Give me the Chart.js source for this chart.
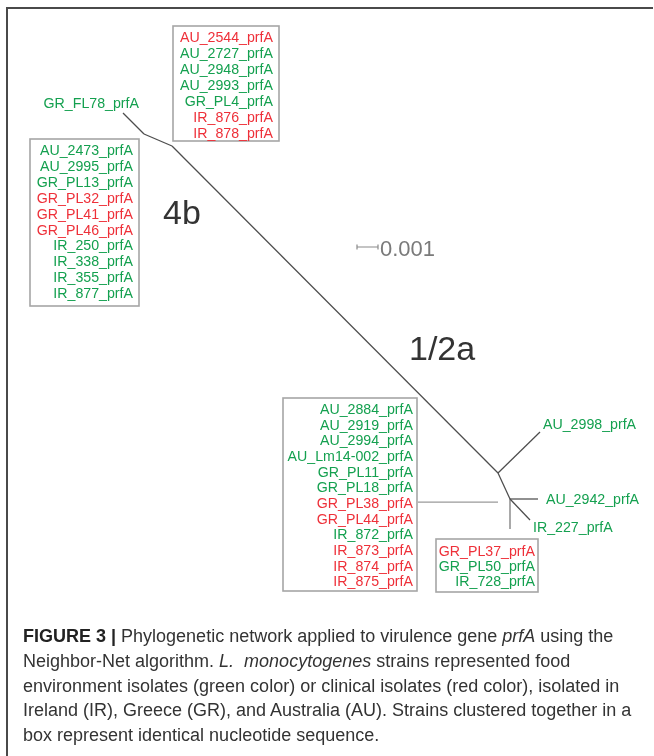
<!DOCTYPE html>
<html>
<head>
<meta charset="utf-8">
<script src="https://cdn.jsdelivr.net/npm/chart.js@4/dist/chart.umd.min.js"></script>
<style>
  html, body { margin: 0; padding: 0; background: #fff; }
  #wrap { position: relative; width: 654px; height: 756px; overflow: hidden; background: #fff; }
  #frame { position: absolute; left: 6px; top: 7px; right: 1px; bottom: -4px;
           border-left: 2px solid #4a4a4a; border-top: 2px solid #4a4a4a; }
  #plot { position: absolute; left: 0; top: 0; width: 654px; height: 756px; }
  #caption { position: absolute; left: 23px; top: 624px; white-space: nowrap;
             font-family: "Liberation Sans", Arial, sans-serif; font-size: 18px;
             line-height: 24.75px; color: #333333; }
  #caption b { color: #222; }
</style>
</head>
<body>
<div id="wrap">
  <div id="frame"></div>
  <div id="plot"><canvas id="net"></canvas></div>
  <div id="caption"><b>FIGURE 3 |</b> Phylogenetic network applied to virulence gene <i>prfA</i> using the<br>Neighbor-Net algorithm. <i>L.&nbsp; monocytogenes</i> strains represented food<br>environment isolates (green color) or clinical isolates (red color), isolated in<br>Ireland (IR), Greece (GR), and Australia (AU). Strains clustered together in a<br>box represent identical nucleotide sequence.</div>
</div>

<script>
// ---- network nodes (planar layout coordinates of the split network) ----
const nodeIds = ['FL78', 'n1', 'n2', 'n3', 'AU2998', 'n4', 'AU2942', 'IR227', 'PL37', 'PL38a', 'PL38b'];
const nodeX   = [123, 144, 172, 498, 540, 510, 538, 530, 510, 418, 498];
const nodeY   = [113, 134, 146, 473, 432, 499, 499, 520, 529, 502, 502];

// ---- edges (pairs of node ids) ----
const edgeFrom = ['FL78', 'n1', 'n2', 'n3',     'n3', 'n4',     'n4',    'n4',   'PL38a'];
const edgeTo   = ['n1',   'n2', 'n3', 'AU2998', 'n4', 'AU2942', 'IR227', 'PL37', 'PL38b'];

// ---- strain clusters (identical prfA sequences); F = food environment, C = clinical ----
const clusterA = ['AU_2544_prfA', 'AU_2727_prfA', 'AU_2948_prfA', 'AU_2993_prfA', 'GR_PL4_prfA', 'IR_876_prfA', 'IR_878_prfA'];
const sourceA  = ['C', 'F', 'F', 'F', 'F', 'C', 'C'];

const clusterB = ['AU_2473_prfA', 'AU_2995_prfA', 'GR_PL13_prfA', 'GR_PL32_prfA', 'GR_PL41_prfA', 'GR_PL46_prfA', 'IR_250_prfA', 'IR_338_prfA', 'IR_355_prfA', 'IR_877_prfA'];
const sourceB  = ['F', 'F', 'F', 'C', 'C', 'C', 'F', 'F', 'F', 'F'];

const clusterC = ['AU_2884_prfA', 'AU_2919_prfA', 'AU_2994_prfA', 'AU_Lm14-002_prfA', 'GR_PL11_prfA', 'GR_PL18_prfA', 'GR_PL38_prfA', 'GR_PL44_prfA', 'IR_872_prfA', 'IR_873_prfA', 'IR_874_prfA', 'IR_875_prfA'];
const sourceC  = ['F', 'F', 'F', 'F', 'F', 'F', 'C', 'C', 'F', 'C', 'C', 'C'];

const clusterD = ['GR_PL37_prfA', 'GR_PL50_prfA', 'IR_728_prfA'];
const sourceD  = ['C', 'F', 'F'];

// ---- single-strain tips ----
const tipNames  = ['GR_FL78_prfA', 'AU_2998_prfA', 'AU_2942_prfA', 'IR_227_prfA'];
const tipSource = ['F', 'F', 'F', 'F'];

// ---- scale bar ----
const scaleBarLength = 0.001;

// ================= layout & style =================
const COLORS = { F: '#14a04f', C: '#ee3039' };
const LABEL_FONT = '14.2px "Liberation Sans", Arial, sans-serif';

const boxLayout = [
  { names: clusterA, src: sourceA, left: 173, top: 26,  right: 279, bottom: 141, textRight: 273, first: 37,  pitch: 16.0 },
  { names: clusterB, src: sourceB, left: 30,  top: 139, right: 139, bottom: 306, textRight: 133, first: 150, pitch: 15.9 },
  { names: clusterC, src: sourceC, left: 283, top: 398, right: 417, bottom: 591, textRight: 413, first: 409, pitch: 15.65 },
  { names: clusterD, src: sourceD, left: 436, top: 539, right: 538, bottom: 592, textRight: 535, first: 551, pitch: 15.2 }
];
const tipLayout = [
  { x: 139, y: 103, align: 'right' },
  { x: 543, y: 424, align: 'left' },
  { x: 546, y: 499, align: 'left' },
  { x: 533, y: 527, align: 'left' }
];
const scaleLayout = { x: 357, y: 247, pxPerUnit: 21 / 0.001, textX: 380, textY: 256 };
const cladeLabels = [
  { text: '4b',   x: 163, y: 224 },
  { text: '1/2a', x: 409, y: 360 }
];

function nodePoint(id) {
  const i = nodeIds.indexOf(id);
  return { x: nodeX[i], y: nodeY[i] };
}

const datasets = edgeFrom.map((from, i) => ({
  data: [nodePoint(from), nodePoint(edgeTo[i])],
  showLine: true,
  borderColor: edgeTo[i] === 'PL38b' ? '#9a9a9a' : (edgeTo[i] === 'PL37' ? '#777777' : '#4d4d4d'),
  borderWidth: 1.25,
  pointRadius: 0,
  pointHoverRadius: 0,
  fill: false
}));

const annotations = {
  id: 'networkAnnotations',
  afterDatasetsDraw(chart) {
    const ctx = chart.ctx;
    const sx = v => chart.scales.x.getPixelForValue(v);
    const sy = v => chart.scales.y.getPixelForValue(v);
    ctx.save();

    // cluster boxes and their strain labels
    boxLayout.forEach(b => {
      ctx.strokeStyle = '#a6a6a6';
      ctx.lineWidth = 1.6;
      ctx.strokeRect(sx(b.left), sy(b.top), sx(b.right) - sx(b.left), sy(b.bottom) - sy(b.top));
      ctx.font = LABEL_FONT;
      ctx.textAlign = 'right';
      ctx.textBaseline = 'alphabetic';
      b.names.forEach((name, i) => {
        ctx.fillStyle = COLORS[b.src[i]];
        ctx.fillText(name, sx(b.textRight), sy(b.first + i * b.pitch + 5));
      });
    });

    // single tips
    ctx.font = LABEL_FONT;
    tipNames.forEach((name, i) => {
      const t = tipLayout[i];
      ctx.fillStyle = COLORS[tipSource[i]];
      ctx.textAlign = t.align;
      ctx.fillText(name, sx(t.x), sy(t.y + 5));
    });

    // clade names
    ctx.fillStyle = '#333333';
    ctx.font = '34px "Liberation Sans", Arial, sans-serif';
    ctx.textAlign = 'left';
    cladeLabels.forEach(c => ctx.fillText(c.text, sx(c.x), sy(c.y)));

    // scale bar
    const x0 = sx(scaleLayout.x);
    const x1 = sx(scaleLayout.x + scaleBarLength * scaleLayout.pxPerUnit);
    const y = sy(scaleLayout.y);
    ctx.strokeStyle = '#8a8a8a';
    ctx.lineWidth = 1.2;
    ctx.beginPath();
    ctx.moveTo(x0, y); ctx.lineTo(x1, y);
    ctx.moveTo(x0, y - 2.5); ctx.lineTo(x0, y + 2.5);
    ctx.moveTo(x1, y - 2.5); ctx.lineTo(x1, y + 2.5);
    ctx.stroke();
    ctx.fillStyle = '#7a7a7a';
    ctx.font = '22px "Liberation Sans", Arial, sans-serif';
    ctx.fillText(String(scaleBarLength), sx(scaleLayout.textX), sy(scaleLayout.textY));

    ctx.restore();
  }
};

new Chart(document.getElementById('net'), {
  type: 'scatter',
  data: { datasets },
  options: {
    responsive: true,
    maintainAspectRatio: false,
    animation: false,
    events: [],
    layout: { padding: 0 },
    plugins: { legend: { display: false }, tooltip: { enabled: false } },
    scales: {
      x: { type: 'linear', min: 0, max: 654, display: false },
      y: { type: 'linear', min: 0, max: 756, reverse: true, display: false }
    }
  },
  plugins: [annotations]
});
</script>
</body>
</html>
